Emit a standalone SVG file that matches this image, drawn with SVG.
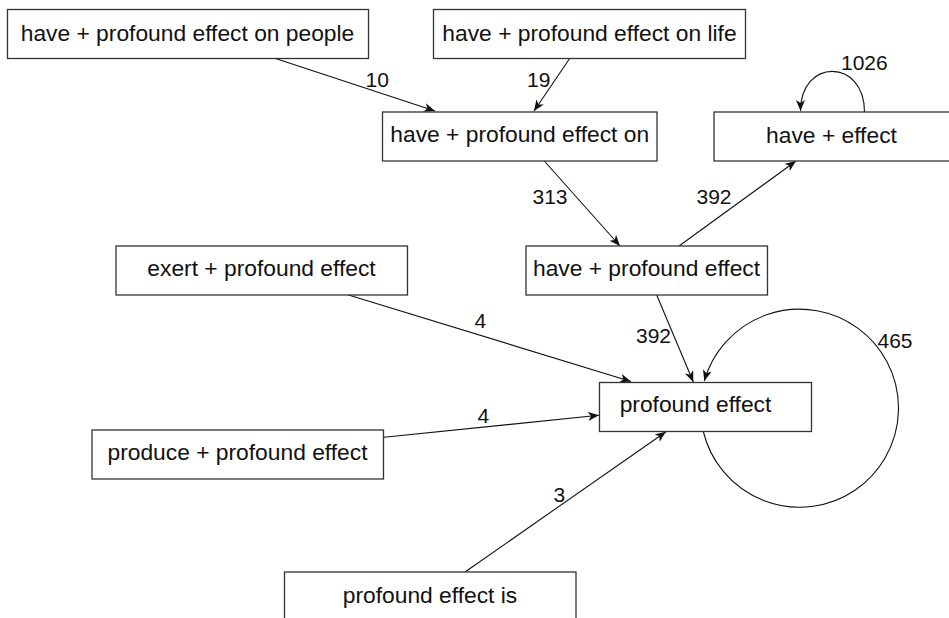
<svg xmlns="http://www.w3.org/2000/svg" width="949" height="618" viewBox="0 0 949 618">
<style>
.node rect{fill:#fff;stroke:#333;stroke-width:1.3}
.node text{font-family:"Liberation Sans",Arial,sans-serif;font-size:22.8px;fill:#111;text-anchor:middle}
.edge{fill:none;stroke:#111;stroke-width:1.1}
.lbl{font-family:"Liberation Sans",Arial,sans-serif;font-size:21px;fill:#111}
</style>
<defs>
<marker id="arr" markerUnits="userSpaceOnUse" markerWidth="12" markerHeight="10" refX="11" refY="4.5" orient="auto">
<path d="M0,0 L11,4.5 L0,9 L3,4.5 z" fill="#111"/>
</marker>
</defs>
<rect width="949" height="618" fill="#fff"/>
<g id="edges">
<path class="edge" marker-end="url(#arr)" d="M274,58 L435,111"/>
<path class="edge" marker-end="url(#arr)" d="M570,58 L534,111"/>
<path class="edge" marker-end="url(#arr)" d="M544.3,161 L620,246"/>
<path class="edge" marker-end="url(#arr)" d="M679,246 L796,161"/>
<path class="edge" marker-end="url(#arr)" d="M864.5,112 C864.5,58 800.5,58 800.5,111"/>
<path class="edge" marker-end="url(#arr)" d="M656.7,295 L693.3,382"/>
<path class="edge" marker-end="url(#arr)" d="M703.3,431.5 A99,99 0 1 0 704.3,381"/>
<path class="edge" marker-end="url(#arr)" d="M347.7,294.7 L631,381.5"/>
<path class="edge" marker-end="url(#arr)" d="M384,437.3 L599,415.3"/>
<path class="edge" marker-end="url(#arr)" d="M465,572 L666,431.7"/>
<text class="lbl" x="365.5" y="87.3">10</text>
<text class="lbl" x="527" y="87.3">19</text>
<text class="lbl" x="532.5" y="204">313</text>
<text class="lbl" x="696.5" y="204">392</text>
<text class="lbl" x="841" y="70">1026</text>
<text class="lbl" x="636" y="343.3">392</text>
<text class="lbl" x="877.5" y="348.3">465</text>
<text class="lbl" x="474.5" y="328.3">4</text>
<text class="lbl" x="477.5" y="422.7">4</text>
<text class="lbl" x="553.5" y="501.7">3</text>
</g>
<g id="n1" class="node"><rect x="7.5" y="9.5" width="361" height="49"/><text x="187.5" y="40.7">have + profound effect on people</text></g>
<g id="n2" class="node"><rect x="433.5" y="9.5" width="312" height="49"/><text x="589.5" y="40.7">have + profound effect on life</text></g>
<g id="n3" class="node"><rect x="382.5" y="112" width="274.5" height="49"/><text x="519.7" y="142">have + profound effect on</text></g>
<g id="n4" class="node"><rect x="714" y="112" width="250" height="49"/><text x="831.5" y="143.3">have + effect</text></g>
<g id="n5" class="node"><rect x="526" y="246" width="241.5" height="49"/><text x="646.5" y="275.5">have + profound effect</text></g>
<g id="n6" class="node"><rect x="599.5" y="382.5" width="212" height="49"/><text x="695.5" y="412">profound effect</text></g>
<g id="n7" class="node"><rect x="116" y="246" width="291.5" height="49"/><text x="261.5" y="276.3">exert + profound effect</text></g>
<g id="n8" class="node"><rect x="92" y="430" width="291.5" height="49"/><text x="237.5" y="460.3">produce + profound effect</text></g>
<g id="n9" class="node"><rect x="284.5" y="572" width="291.5" height="49"/><text x="430" y="602.7">profound effect is</text></g>
</svg>
